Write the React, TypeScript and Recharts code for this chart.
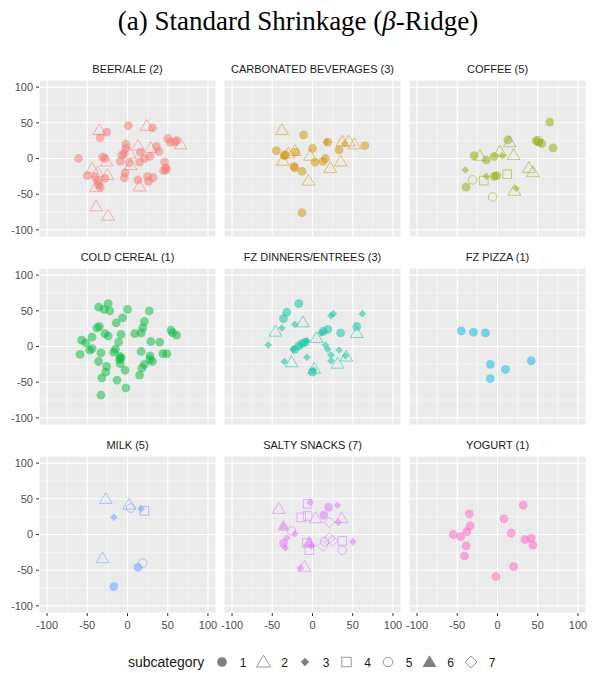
import { CartesianGrid, Scatter, ScatterChart, XAxis, YAxis } from "recharts";

// [x, y, subcategory]
type Pt = [number, number, number];

const beerAle: Pt[] = [
  [-61, 0, 1], [-50, -24, 1], [-34, 29, 1], [-26, 37, 1], [-31, 2, 1], [-28, 0, 1],
  [-40, -26, 1], [-37, -32, 1], [-36, -37, 1], [-34, -40, 1], [-28, -28, 1], [1, 46, 1],
  [31, 43, 1], [-2, 20, 1], [-2, 14, 1], [-4, 7, 1], [-7, 5, 1], [-9, -4, 1], [2, -6, 1],
  [-3, -20, 1], [-4, -27, 1], [16, 9, 1], [21, 0, 1], [28, 3, 1], [15, -5, 1], [13, -30, 1],
  [25, -25, 1], [26, -32, 1], [32, -27, 1], [36, 17, 1], [39, 10, 1], [50, 28, 1], [53, 23, 1],
  [59, 23, 1], [61, 25, 1], [46, -5, 1], [48, -13, 1], [48, -16, 1], [45, -17, 1],
  [-35, 40, 2], [-44, -14, 2], [-37, -19, 2], [-26, -4, 2], [-25, -23, 2], [-39, -40, 2],
  [-39, -67, 2], [-24, -80, 2], [24, 46, 2], [13, 18, 2], [29, 15, 2], [3, 7, 2], [4, -9, 2],
  [15, -39, 2], [66, 20, 2],
];

const carbonated: Pt[] = [
  [-45, 11, 1], [-34, 5, 1], [-35, 4, 1], [-21, 9, 1], [-23, -11, 1], [-22, -13, 1],
  [-13, -18, 1], [-11, 33, 1], [0, 14, 1], [3, -5, 1], [13, -4, 1], [16, 0, 1], [19, 23, 1],
  [33, 12, 1], [65, 18, 1], [-13, -76, 1],
  [-38, 40, 2], [-37, -3, 2], [-30, 7, 2], [-22, 11, 2], [-3, 4, 2], [-5, -31, 2], [22, -13, 2],
  [35, -4, 2], [37, 24, 2], [45, 24, 2], [52, 20, 2],
  [17, 23, 3], [40, 21, 3],
];

const coffee: Pt[] = [
  [65, 51, 1], [13, 26, 1], [48, 25, 1], [51, 23, 1], [55, 21, 1], [69, 15, 1], [-29, 4, 1],
  [-14, -2, 1], [-4, 3, 1], [-4, -25, 1], [-1, -24, 1], [-39, -40, 1],
  [-22, 4, 2], [3, 10, 2], [15, 23, 2], [20, 5, 2], [39, -13, 2], [44, -19, 2], [21, -45, 2],
  [-40, -16, 3], [-14, -25, 3], [6, 4, 3], [23, -42, 3],
  [-17, -31, 4], [12, -22, 4],
  [-31, -30, 5], [-6, -54, 5], [51, 25, 5],
];

const coldCereal: Pt[] = [
  [-36, 55, 1], [-24, 60, 1], [-29, 52, 1], [-22, 50, 1], [0, 52, 1], [27, 50, 1], [-6, 40, 1],
  [-14, 33, 1], [21, 35, 1], [19, 26, 1], [-38, 26, 1], [-35, 28, 1], [-44, 13, 1], [-28, 18, 1],
  [-24, 15, 1], [-8, 17, 1], [9, 18, 1], [17, 19, 1], [54, 23, 1], [56, 19, 1], [61, 16, 1],
  [-57, 9, 1], [-52, 5, 1], [-47, -5, 1], [-44, -3, 1], [-59, -11, 1], [-33, -9, 1], [-11, 6, 1],
  [-15, -4, 1], [-17, -8, 1], [-9, -14, 1], [-10, -18, 1], [-8, -16, 1], [-9, -24, 1],
  [-3, -33, 1], [29, 7, 1], [40, 6, 1], [44, -10, 1], [49, -10, 1], [17, -7, 1], [28, -13, 1],
  [28, -18, 1], [31, -21, 1], [21, -25, 1], [18, -30, 1], [15, -40, 1], [-36, -21, 1],
  [-26, -28, 1], [-27, -36, 1], [-32, -44, 1], [-13, -47, 1], [-2, -58, 1], [-33, -68, 1],
];

const fzDinners: Pt[] = [
  [-17, 60, 1], [-32, 48, 1], [-36, 39, 1], [19, 24, 1], [13, 21, 1], [35, 19, 1], [55, 28, 1],
  [-13, 4, 1], [-9, 6, 1], [-17, 1, 1], [-22, -4, 1], [0, -36, 1],
  [-46, 21, 2], [-12, 34, 2], [5, 12, 2], [-26, -22, 2], [2, -31, 2], [31, -24, 2], [42, -14, 2],
  [55, 19, 2],
  [-55, 2, 3], [-38, 26, 3], [-22, 31, 3], [23, 43, 3], [26, 46, 3], [62, 46, 3], [11, 19, 3],
  [-7, 8, 3], [-24, -4, 3], [-35, -21, 3], [-7, -15, 3], [16, 2, 3], [19, -4, 3], [23, -12, 3],
  [23, -20, 3], [33, -5, 3], [41, -13, 3], [1, -33, 3],
];

const fzPizza: Pt[] = [
  [-45, 22, 1], [-30, 20, 1], [-15, 19, 1], [-9, -25, 1], [10, -32, 1], [-9, -45, 1], [42, -20, 1],
];

const milk: Pt[] = [
  [13, -46, 1], [-17, -73, 1],
  [-27, 50, 2], [2, 42, 2], [-31, -33, 2],
  [-17, 24, 3], [17, 36, 3],
  [21, 33, 4],
  [4, 37, 5], [19, -40, 5],
];

const saltySnacks: Pt[] = [
  [20, 38, 1], [14, 27, 1], [-36, -12, 1],
  [-42, 36, 2], [4, 23, 2], [36, 23, 2], [-10, -45, 2],
  [-3, 45, 3], [31, 41, 3], [32, 17, 3], [-22, 1, 3], [-32, -5, 3], [-34, -19, 3], [-1, -16, 3],
  [50, -10, 3], [-15, -47, 3],
  [-6, 43, 4], [-14, 24, 4], [-6, 26, 4], [-7, -12, 4], [-4, -22, 4], [37, -9, 4],
  [-26, 5, 5], [15, -10, 5], [37, -22, 5],
  [-36, 12, 6], [-4, -10, 6],
  [21, 17, 7], [13, -16, 7], [21, -5, 7], [25, -9, 7],
];

const yogurt: Pt[] = [
  [-55, 0, 1], [-46, -3, 1], [-38, 4, 1], [-34, 12, 1], [-35, 29, 1], [-39, -16, 1], [-41, -30, 1],
  [8, 22, 1], [17, 2, 1], [32, 41, 1], [34, -7, 1], [42, -5, 1], [44, -15, 1], [20, -45, 1],
  [-2, -59, 1],
];

const PANEL_TITLES = [
  "BEER/ALE (2)", "CARBONATED BEVERAGES (3)", "COFFEE (5)",
  "COLD CEREAL (1)", "FZ DINNERS/ENTREES (3)", "FZ PIZZA (1)",
  "MILK (5)", "SALTY SNACKS (7)", "YOGURT (1)",
];
const PANEL_COLORS = [
  "#F8766D", "#D39200", "#93AA00", "#00BA38", "#00C19F",
  "#00B9E3", "#619CFF", "#DB72FB", "#FF61C3",
];
const PANEL_POINTS = [beerAle, carbonated, coffee, coldCereal, fzDinners, fzPizza, milk, saltySnacks, yogurt];

const SUBCATEGORIES = [1, 2, 3, 4, 5, 6, 7];
const MAJOR_TICKS = [-100, -50, 0, 50, 100];
const MINOR_TICKS = [-75, -25, 25, 75];
const DOMAIN: [number, number] = [-110, 110];

const COL_LEFT = [39, 224, 409];
const ROW_TOP = [80, 268, 456];
const PANEL_W = 177;
const PANEL_H = 157;
const Y_AXIS_W = 39;
const X_AXIS_H = 22;
const PAD = 14; // side room so edge tick labels are not clipped
const SANS = "'Liberation Sans', Arial, sans-serif";

function Mark({ cx, cy, sub, color, alpha = 0.5, k = 1 }: any) {
  const tri = `${cx},${cy - 6.2 * k} ${cx - 6.4 * k},${cy + 4.6 * k} ${cx + 6.4 * k},${cy + 4.6 * k}`;
  const dia = (h: number) =>
    `${cx},${cy - h} ${cx + h},${cy} ${cx},${cy + h} ${cx - h},${cy}`;
  switch (sub) {
    case 1:
      return <circle cx={cx} cy={cy} r={4.4 * k} fill={color} fillOpacity={alpha} />;
    case 2:
      return <polygon points={tri} fill="none" stroke={color} strokeOpacity={alpha} strokeWidth={1} />;
    case 3:
      return <polygon points={dia(3.8 * k)} fill={color} fillOpacity={alpha} />;
    case 4:
      return (
        <rect x={cx - 4.3 * k} y={cy - 4.3 * k} width={8.6 * k} height={8.6 * k}
          fill="none" stroke={color} strokeOpacity={alpha} strokeWidth={1} />
      );
    case 5:
      return <circle cx={cx} cy={cy} r={4.3 * k} fill="none" stroke={color} strokeOpacity={alpha} strokeWidth={1} />;
    case 6:
      return <polygon points={tri} fill={color} fillOpacity={alpha} />;
    default:
      return <polygon points={dia(5.4 * k)} fill="none" stroke={color} strokeOpacity={alpha} strokeWidth={1} />;
  }
}

function Panel({ index }: { index: number }) {
  const col = index % 3;
  const row = Math.floor(index / 3);
  const showY = col === 0;
  const showX = row === 2;
  const color = PANEL_COLORS[index];
  const data = PANEL_POINTS[index].map(([x, y, s]) => ({ x, y, s }));
  const tickStyle = { fill: "#4D4D4D", fontSize: 11, fontFamily: SANS };
  const leftPad = showY ? 0 : PAD;

  return (
    <div style={{ position: "absolute", left: COL_LEFT[col] - (showY ? Y_AXIS_W : 0) - leftPad, top: ROW_TOP[row] }}>
      <ScatterChart
        width={PANEL_W + (showY ? Y_AXIS_W : 0) + leftPad + PAD}
        height={PANEL_H + (showX ? X_AXIS_H : 0)}
        margin={{ top: 0, right: PAD, bottom: 0, left: leftPad }}
      >
        <CartesianGrid fill="#EBEBEB" stroke="#FFFFFF" strokeWidth={1.1} />
        <CartesianGrid stroke="#FFFFFF" strokeWidth={0.5} horizontalValues={MINOR_TICKS} verticalValues={MINOR_TICKS} />
        <XAxis
          type="number" dataKey="x" domain={DOMAIN} ticks={MAJOR_TICKS} interval={0}
          hide={!showX} height={X_AXIS_H} axisLine={false} tickLine={{ stroke: "#333333" }}
          tickSize={3} tickMargin={5} tick={tickStyle} allowDataOverflow
        />
        <YAxis
          type="number" dataKey="y" domain={DOMAIN} ticks={MAJOR_TICKS} interval={0}
          hide={!showY} width={Y_AXIS_W} axisLine={false} tickLine={{ stroke: "#333333" }}
          tickSize={3} tickMargin={3} tick={tickStyle} allowDataOverflow
        />
        <Scatter
          data={data}
          isAnimationActive={false}
          shape={(p: any) => <Mark cx={p.cx} cy={p.cy} sub={p.payload.s} color={color} />}
        />
      </ScatterChart>
    </div>
  );
}

export default function App() {
  return (
    <div style={{ position: "absolute", left: 0, top: 0, width: 594, height: 673, background: "#FFFFFF" }}>
      <svg width={594} height={673} style={{ position: "absolute", left: 0, top: 0 }}>
        <text x={298} y={30} textAnchor="middle" fontFamily="'Liberation Serif', 'Times New Roman', serif" fontSize={27} fill="#000">
          (a) Standard Shrinkage (<tspan fontStyle="italic">β</tspan>-Ridge)
        </text>
        {PANEL_TITLES.map((t, i) => (
          <text
            key={t}
            x={COL_LEFT[i % 3] + PANEL_W / 2}
            y={ROW_TOP[Math.floor(i / 3)] - 7}
            textAnchor="middle"
            fontFamily={SANS}
            fontSize={11}
            fill="#1A1A1A"
          >
            {t}
          </text>
        ))}
        <text x={128} y={667} fontFamily={SANS} fontSize={14} fill="#1A1A1A">subcategory</text>
        {SUBCATEGORIES.map((s, i) => (
          <g key={s}>
            <Mark cx={222 + i * 41.5} cy={662} sub={s} color="#7F7F7F" alpha={s === 1 || s === 3 || s === 6 ? 1 : 0.8} k={1.1} />
            <text x={243 + i * 41.5} y={666.5} textAnchor="middle" fontFamily={SANS} fontSize={12} fill="#1A1A1A">
              {s}
            </text>
          </g>
        ))}
      </svg>
      {PANEL_TITLES.map((t, i) => (
        <Panel key={t} index={i} />
      ))}
    </div>
  );
}
